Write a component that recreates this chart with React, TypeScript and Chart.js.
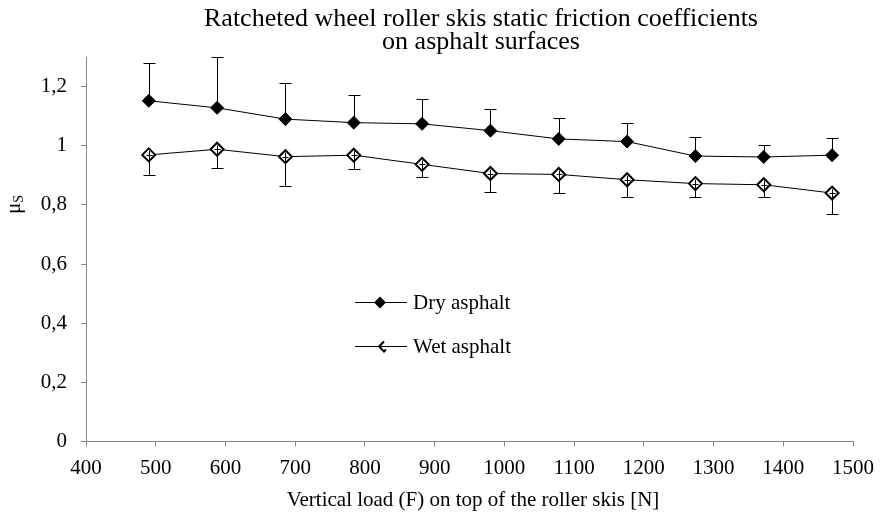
import React, { useEffect, useRef } from "react";
import { Chart, registerables } from "chart.js";

Chart.register(...registerables);

const TITLE_LINES = [
  "Ratcheted wheel roller skis static friction coefficients",
  "on asphalt surfaces",
];
const X_TITLE = "Vertical load (F) on top of the roller skis [N]";
const SERIES_NAMES = ["Dry asphalt", "Wet asphalt"];

const loads = [490, 588, 686, 784, 882, 980, 1078, 1176, 1274, 1372, 1470];
const dryMu = [1.152, 1.128, 1.09, 1.078, 1.074, 1.051, 1.023, 1.014, 0.965, 0.962, 0.968];
const dryErrUp = [0.127, 0.172, 0.123, 0.094, 0.083, 0.074, 0.07, 0.064, 0.063, 0.04, 0.057];
const wetMu = [0.969, 0.988, 0.963, 0.968, 0.937, 0.906, 0.903, 0.885, 0.872, 0.868, 0.84];
const wetErrDown = [0.068, 0.063, 0.1, 0.046, 0.042, 0.062, 0.063, 0.06, 0.046, 0.041, 0.072];

const xTicks = [400, 500, 600, 700, 800, 900, 1000, 1100, 1200, 1300, 1400, 1500];
const yTicks = [0, 0.2, 0.4, 0.6, 0.8, 1, 1.2];

const SERIF = "'Liberation Serif', 'Times New Roman', serif";
const AXIS_COLOR = "#868686";

const decorPlugin = {
  id: "decor",
  afterDatasetsDraw(chart: any) {
    const ctx = chart.ctx;
    const xs = chart.scales.x;
    const ys = chart.scales.y;
    ctx.save();
    ctx.strokeStyle = "#000";
    ctx.lineWidth = 1;
    const cap = 6;
    // dry: upper error bars
    loads.forEach((l, i) => {
      const px = Math.round(xs.getPixelForValue(l)) + 0.5;
      const y0 = ys.getPixelForValue(dryMu[i]);
      const y1 = Math.round(ys.getPixelForValue(dryMu[i] + dryErrUp[i])) + 0.5;
      ctx.beginPath();
      ctx.moveTo(px, y0);
      ctx.lineTo(px, y1);
      ctx.moveTo(px - cap, y1);
      ctx.lineTo(px + cap, y1);
      ctx.stroke();
    });
    // wet: lower error bars (drawn through hollow marker)
    loads.forEach((l, i) => {
      const px = Math.round(xs.getPixelForValue(l)) + 0.5;
      const y0 = ys.getPixelForValue(wetMu[i]);
      const y1 = Math.round(ys.getPixelForValue(wetMu[i] - wetErrDown[i])) + 0.5;
      ctx.beginPath();
      ctx.moveTo(px, y0 - 4);
      ctx.lineTo(px, y1);
      ctx.moveTo(px - cap, y1);
      ctx.lineTo(px + cap, y1);
      ctx.moveTo(px - 3, Math.round(y0) + 0.5);
      ctx.lineTo(px + 3, Math.round(y0) + 0.5);
      ctx.stroke();
    });
    ctx.restore();
  },
  afterDraw(chart: any) {
    const ctx = chart.ctx;
    ctx.save();
    ctx.fillStyle = "#000";
    // title
    ctx.font = `26px ${SERIF}`;
    ctx.textAlign = "center";
    ctx.textBaseline = "alphabetic";
    ctx.fillText(TITLE_LINES[0], 481, 26);
    ctx.fillText(TITLE_LINES[1], 481, 49);
    // x axis title
    ctx.font = `21px ${SERIF}`;
    ctx.fillText(X_TITLE, 473, 506);
    // y axis title mu_S
    ctx.save();
    ctx.translate(20, 206);
    ctx.rotate(-Math.PI / 2);
    ctx.textAlign = "left";
    ctx.font = `21px ${SERIF}`;
    ctx.fillText("\u03bc", -8, 0);
    const mw = ctx.measureText("\u03bc").width;
    ctx.font = `14px ${SERIF}`;
    ctx.fillText("S", -8 + mw, 3);
    ctx.restore();

    // legend
    const legendRows = [302.5, 346.5];
    ctx.lineWidth = 1;
    ctx.strokeStyle = "#000";
    legendRows.forEach((ly, k) => {
      ctx.beginPath();
      ctx.moveTo(355, ly);
      ctx.lineTo(407, ly);
      ctx.stroke();
      const cx = 380;
      if (k === 0) {
        ctx.beginPath();
        ctx.moveTo(cx, ly - 6);
        ctx.lineTo(cx + 6, ly);
        ctx.lineTo(cx, ly + 6);
        ctx.lineTo(cx - 6, ly);
        ctx.closePath();
        ctx.fill();
      } else {
        ctx.save();
        ctx.lineWidth = 2;
        ctx.beginPath();
        ctx.moveTo(cx + 4, ly - 5);
        ctx.lineTo(cx - 1, ly);
        ctx.lineTo(cx + 4, ly + 5);
        ctx.lineTo(cx + 6, ly + 3);
        ctx.stroke();
        ctx.restore();
      }
      ctx.font = `21px ${SERIF}`;
      ctx.textAlign = "left";
      ctx.textBaseline = "middle";
      ctx.fillText(SERIES_NAMES[k], 413, ly + 1);
    });
    ctx.restore();
  },
};

export default function App() {
  const ref = useRef<HTMLCanvasElement | null>(null);
  useEffect(() => {
    document.body.style.margin = "0";
    const canvas = ref.current!;
    const chart = new Chart(canvas, {
      type: "line",
      data: {
        datasets: [
          {
            label: SERIES_NAMES[0],
            data: loads.map((l, i) => ({ x: l, y: dryMu[i] })),
            borderColor: "#000",
            borderWidth: 1,
            backgroundColor: "#000",
            pointStyle: "rectRot",
            pointRadius: 6.5,
            pointBorderWidth: 1,
            pointBackgroundColor: "#000",
            pointBorderColor: "#000",
            tension: 0,
          },
          {
            label: SERIES_NAMES[1],
            data: loads.map((l, i) => ({ x: l, y: wetMu[i] })),
            borderColor: "#000",
            borderWidth: 1,
            backgroundColor: "#fff",
            pointStyle: "rectRot",
            pointRadius: 6.5,
            pointBorderWidth: 2,
            pointBackgroundColor: "#fff",
            pointBorderColor: "#000",
            tension: 0,
          },
        ],
      },
      options: {
        animation: false,
        responsive: false,
        maintainAspectRatio: false,
        devicePixelRatio: 1,
        layout: { padding: { left: 0, top: 57, right: 23, bottom: 0 } },
        plugins: {
          legend: { display: false },
          title: { display: false },
          tooltip: { enabled: false },
        },
        scales: {
          x: {
            type: "linear",
            min: 400,
            max: 1500,
            afterBuildTicks: (s: any) => {
              s.ticks = xTicks.map((v) => ({ value: v }));
            },
            afterFit: (s: any) => {
              s.height = 71.5;
            },
            ticks: {
              color: "#000",
              font: { family: SERIF, size: 21 },
              padding: 9,
              maxRotation: 0,
              autoSkip: false,
              callback: (v: any) => String(v),
            },
            grid: {
              display: true,
              drawOnChartArea: false,
              drawTicks: true,
              tickLength: 5,
              color: AXIS_COLOR,
            },
            border: { display: true, color: AXIS_COLOR, width: 1 },
          },
          y: {
            type: "linear",
            min: 0,
            max: 1.3,
            afterBuildTicks: (s: any) => {
              s.ticks = yTicks.map((v) => ({ value: v }));
            },
            afterFit: (s: any) => {
              s.width = 86;
            },
            ticks: {
              color: "#000",
              font: { family: SERIF, size: 21 },
              padding: 14,
              autoSkip: false,
              callback: (v: any) => String(Math.round(v * 10) / 10).replace(".", ","),
            },
            grid: {
              display: true,
              drawOnChartArea: false,
              drawTicks: true,
              tickLength: 5,
              color: AXIS_COLOR,
            },
            border: { display: true, color: AXIS_COLOR, width: 1 },
          },
        },
      },
      plugins: [decorPlugin],
    } as any);
    return () => chart.destroy();
  }, []);
  return (
    <div style={{ width: 883, height: 513, background: "#fff" }}>
      <canvas ref={ref} width={883} height={513} style={{ display: "block" }} />
    </div>
  );
}
